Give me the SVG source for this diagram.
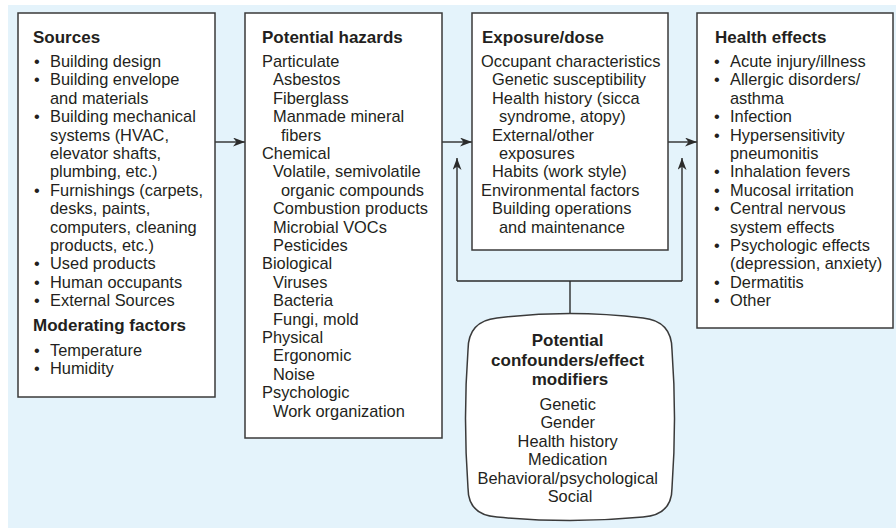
<svg xmlns="http://www.w3.org/2000/svg" width="896" height="529" viewBox="0 0 896 529">
<defs>
<marker id="ah" markerUnits="userSpaceOnUse" markerWidth="13" markerHeight="10" refX="12" refY="4.5" orient="auto">
<path d="M0,0 L12,4.5 L0,9 L3.5,4.5 Z" fill="#2b2b2b"/>
</marker>
<style>
.box{fill:#fff;stroke:#3a3a3a;stroke-width:1.5}
.t{font-family:"Liberation Sans",Arial,sans-serif;font-size:16.4px;fill:#231f20}
.h{font-family:"Liberation Sans",Arial,sans-serif;font-size:17px;font-weight:bold;fill:#231f20}
.c{text-anchor:middle}
.ln{fill:none;stroke:#2b2b2b;stroke-width:1.4}
</style>
</defs>
<rect x="8" y="5" width="888" height="523" fill="#e4f3fb"/>

<g id="connectors">
<path class="ln" d="M215,142 H245" marker-end="url(#ah)"/>
<path class="ln" d="M442,142 H472" marker-end="url(#ah)"/>
<path class="ln" d="M668,142 H697" marker-end="url(#ah)"/>
<path class="ln" d="M570,315 V281"/>
<path class="ln" d="M457,281 H682"/>
<path class="ln" d="M457,281 V158" marker-end="url(#ah)"/>
<path class="ln" d="M682,281 V158" marker-end="url(#ah)"/>
</g>

<g id="sources">
<rect class="box" x="18" y="13" width="197" height="384"/>
<text class="h" x="33" y="43">Sources</text>
<text class="t">
<tspan x="34" y="67">•</tspan><tspan x="50" y="67">Building design</tspan>
<tspan x="34" y="85.4">•</tspan><tspan x="50" y="85.4">Building envelope</tspan>
<tspan x="50" y="103.8">and materials</tspan>
<tspan x="34" y="122.2">•</tspan><tspan x="50" y="122.2">Building mechanical</tspan>
<tspan x="50" y="140.6">systems (HVAC,</tspan>
<tspan x="50" y="159">elevator shafts,</tspan>
<tspan x="50" y="177.4">plumbing, etc.)</tspan>
<tspan x="34" y="195.8">•</tspan><tspan x="50" y="195.8">Furnishings (carpets,</tspan>
<tspan x="50" y="214.2">desks, paints,</tspan>
<tspan x="50" y="232.6">computers, cleaning</tspan>
<tspan x="50" y="251">products, etc.)</tspan>
<tspan x="34" y="269.4">•</tspan><tspan x="50" y="269.4">Used products</tspan>
<tspan x="34" y="287.8">•</tspan><tspan x="50" y="287.8">Human occupants</tspan>
<tspan x="34" y="306.2">•</tspan><tspan x="50" y="306.2">External Sources</tspan>
</text>
<text class="h" x="33" y="331">Moderating factors</text>
<text class="t">
<tspan x="34" y="356">•</tspan><tspan x="50" y="356">Temperature</tspan>
<tspan x="34" y="374.4">•</tspan><tspan x="50" y="374.4">Humidity</tspan>
</text>
</g>

<g id="hazards">
<rect class="box" x="245" y="13" width="197" height="425"/>
<text class="h" x="262" y="43">Potential hazards</text>
<text class="t">
<tspan x="262" y="67">Particulate</tspan>
<tspan x="273" y="85.4">Asbestos</tspan>
<tspan x="273" y="103.8">Fiberglass</tspan>
<tspan x="273" y="122.2">Manmade mineral</tspan>
<tspan x="281" y="140.6">fibers</tspan>
<tspan x="262" y="159">Chemical</tspan>
<tspan x="273" y="177.4">Volatile, semivolatile</tspan>
<tspan x="281" y="195.8">organic compounds</tspan>
<tspan x="273" y="214.2">Combustion products</tspan>
<tspan x="273" y="232.6">Microbial VOCs</tspan>
<tspan x="273" y="251">Pesticides</tspan>
<tspan x="262" y="269.4">Biological</tspan>
<tspan x="273" y="287.8">Viruses</tspan>
<tspan x="273" y="306.2">Bacteria</tspan>
<tspan x="273" y="324.6">Fungi, mold</tspan>
<tspan x="262" y="343">Physical</tspan>
<tspan x="273" y="361.4">Ergonomic</tspan>
<tspan x="273" y="379.8">Noise</tspan>
<tspan x="262" y="398.2">Psychologic</tspan>
<tspan x="273" y="416.6">Work organization</tspan>
</text>
</g>

<g id="exposure">
<rect class="box" x="472" y="13" width="196" height="237"/>
<text class="h" x="482" y="43">Exposure/dose</text>
<text class="t">
<tspan x="481" y="67">Occupant characteristics</tspan>
<tspan x="492" y="85.4">Genetic susceptibility</tspan>
<tspan x="492" y="103.8">Health history (sicca</tspan>
<tspan x="499" y="122.2">syndrome, atopy)</tspan>
<tspan x="492" y="140.6">External/other</tspan>
<tspan x="499" y="159">exposures</tspan>
<tspan x="492" y="177.4">Habits (work style)</tspan>
<tspan x="481" y="195.8">Environmental factors</tspan>
<tspan x="492" y="214.2">Building operations</tspan>
<tspan x="499" y="232.6">and maintenance</tspan>
</text>
</g>

<g id="health">
<rect class="box" x="697" y="13" width="196" height="315"/>
<text class="h" x="715" y="43">Health effects</text>
<text class="t">
<tspan x="714" y="67">•</tspan><tspan x="730" y="67">Acute injury/illness</tspan>
<tspan x="714" y="85.4">•</tspan><tspan x="730" y="85.4">Allergic disorders/</tspan>
<tspan x="730" y="103.8">asthma</tspan>
<tspan x="714" y="122.2">•</tspan><tspan x="730" y="122.2">Infection</tspan>
<tspan x="714" y="140.6">•</tspan><tspan x="730" y="140.6">Hypersensitivity</tspan>
<tspan x="730" y="159">pneumonitis</tspan>
<tspan x="714" y="177.4">•</tspan><tspan x="730" y="177.4">Inhalation fevers</tspan>
<tspan x="714" y="195.8">•</tspan><tspan x="730" y="195.8">Mucosal irritation</tspan>
<tspan x="714" y="214.2">•</tspan><tspan x="730" y="214.2">Central nervous</tspan>
<tspan x="730" y="232.6">system effects</tspan>
<tspan x="714" y="251">•</tspan><tspan x="730" y="251">Psychologic effects</tspan>
<tspan x="730" y="269.4">(depression, anxiety)</tspan>
<tspan x="714" y="287.8">•</tspan><tspan x="730" y="287.8">Dermatitis</tspan>
<tspan x="714" y="306.2">•</tspan><tspan x="730" y="306.2">Other</tspan>
</text>
</g>

<g id="confounders">
<path class="box" d="M497,318 Q570,309 643,318 Q672,321 672,350 Q677,418 672,488 Q672,515 643,517 Q570,524 497,517 Q468,515 468,488 Q463,418 468,350 Q468,321 497,318 Z"/>
<text class="h c">
<tspan x="570" y="346">Potential</tspan>
<tspan x="570" y="365.5">confounders/effect</tspan>
<tspan x="570" y="385">modifiers</tspan>
</text>
<text class="t c">
<tspan x="570" y="410">Genetic</tspan>
<tspan x="570" y="428.4">Gender</tspan>
<tspan x="570" y="446.8">Health history</tspan>
<tspan x="570" y="465.2">Medication</tspan>
<tspan x="570" y="483.6">Behavioral/psychological</tspan>
<tspan x="570" y="502">Social</tspan>
</text>
</g>
</svg>
